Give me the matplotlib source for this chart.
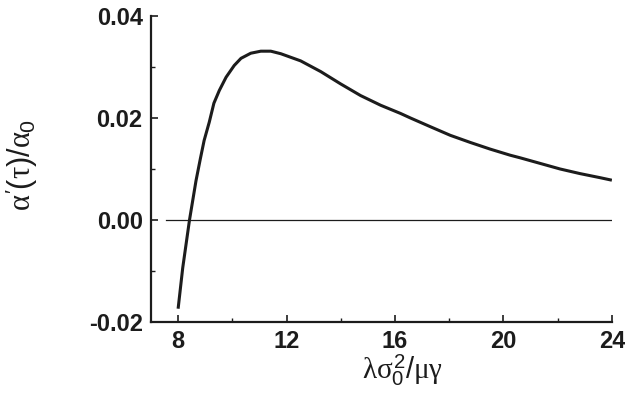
import matplotlib
matplotlib.use("Agg")
import matplotlib.pyplot as plt
from matplotlib.ticker import MultipleLocator

# data
x_vals = [8.0, 8.17, 8.42, 8.66, 8.82, 8.96, 9.15, 9.32, 9.52, 9.77, 10.07, 10.32,
          10.68, 11.05, 11.42, 11.79, 12.52, 13.26, 13.99, 14.73, 15.47, 16.2,
          16.57, 17.3, 18.04, 18.78, 19.51, 20.25, 20.61, 21.35, 22.09, 22.82,
          23.56, 24.0]
y_vals = [-0.0174, -0.0094, 0.0, 0.0077, 0.0120, 0.0156, 0.0192, 0.0229, 0.0254,
          0.0280, 0.0303, 0.0317, 0.0327, 0.0331, 0.0331, 0.0326, 0.0312, 0.0291,
          0.0267, 0.0244, 0.0225, 0.0209, 0.0200, 0.0183, 0.0166, 0.0152, 0.0139,
          0.0127, 0.0122, 0.0111, 0.0100, 0.0091, 0.0083, 0.0078]
zero_line_x = [7.55, 24.0]
zero_line_y = [0.0, 0.0]
x_ticks = [8, 12, 16, 20, 24]
y_ticks = [-0.02, 0.00, 0.02, 0.04]
y_tick_labels = ["-0.02", "0.00", "0.02", "0.04"]

plt.rcParams['mathtext.fontset'] = 'custom'
plt.rcParams['mathtext.rm'] = 'Liberation Sans'
plt.rcParams['mathtext.it'] = 'Liberation Serif'
plt.rcParams['font.family'] = ['Liberation Sans', 'DejaVu Sans']

ink = '#1c1c1c'
fig = plt.figure(figsize=(6.25, 3.97), dpi=100)
ax = fig.add_axes([0.2416, 0.189, 0.979 - 0.2416, 0.9597 - 0.189])

ax.plot(x_vals, y_vals, color=ink, lw=2.2, solid_capstyle='butt', solid_joinstyle='round')
ax.plot(zero_line_x, zero_line_y, color=ink, lw=0.9)

ax.set_xlim(7.0, 24.0)
ax.set_ylim(-0.02, 0.04)
for s in ['top', 'right']:
    ax.spines[s].set_visible(False)
for s in ['left', 'bottom']:
    ax.spines[s].set_linewidth(1.6)
    ax.spines[s].set_color(ink)

ax.set_xticks(x_ticks)
ax.set_xticklabels([str(t) for t in x_ticks])
ax.set_yticks(y_ticks)
ax.set_yticklabels(y_tick_labels)
ax.xaxis.set_minor_locator(MultipleLocator(2))
ax.yaxis.set_minor_locator(MultipleLocator(0.01))
ax.tick_params(which='major', direction='in', length=5, width=1.2, color=ink,
               labelsize=17, labelcolor=ink)
ax.tick_params(axis='x', which='major', pad=6)
ax.tick_params(axis='y', which='major', pad=6)
ax.tick_params(which='minor', direction='in', length=3, width=1.0, color=ink)
for lab in ax.get_xticklabels() + ax.get_yticklabels():
    lab.set_fontweight('bold')

fig.text(403 / 625, 1 - 388 / 397, r'$\lambda\sigma_0^2/\mu\gamma$', fontsize=21,
         color=ink, ha='center', va='bottom')
fig.text(22 / 625, 1 - 165 / 397, r"$\alpha'(\tau)/\alpha_0$", fontsize=22,
         color=ink, ha='center', va='center', rotation=90)

fig.savefig('out.png', dpi=100)
